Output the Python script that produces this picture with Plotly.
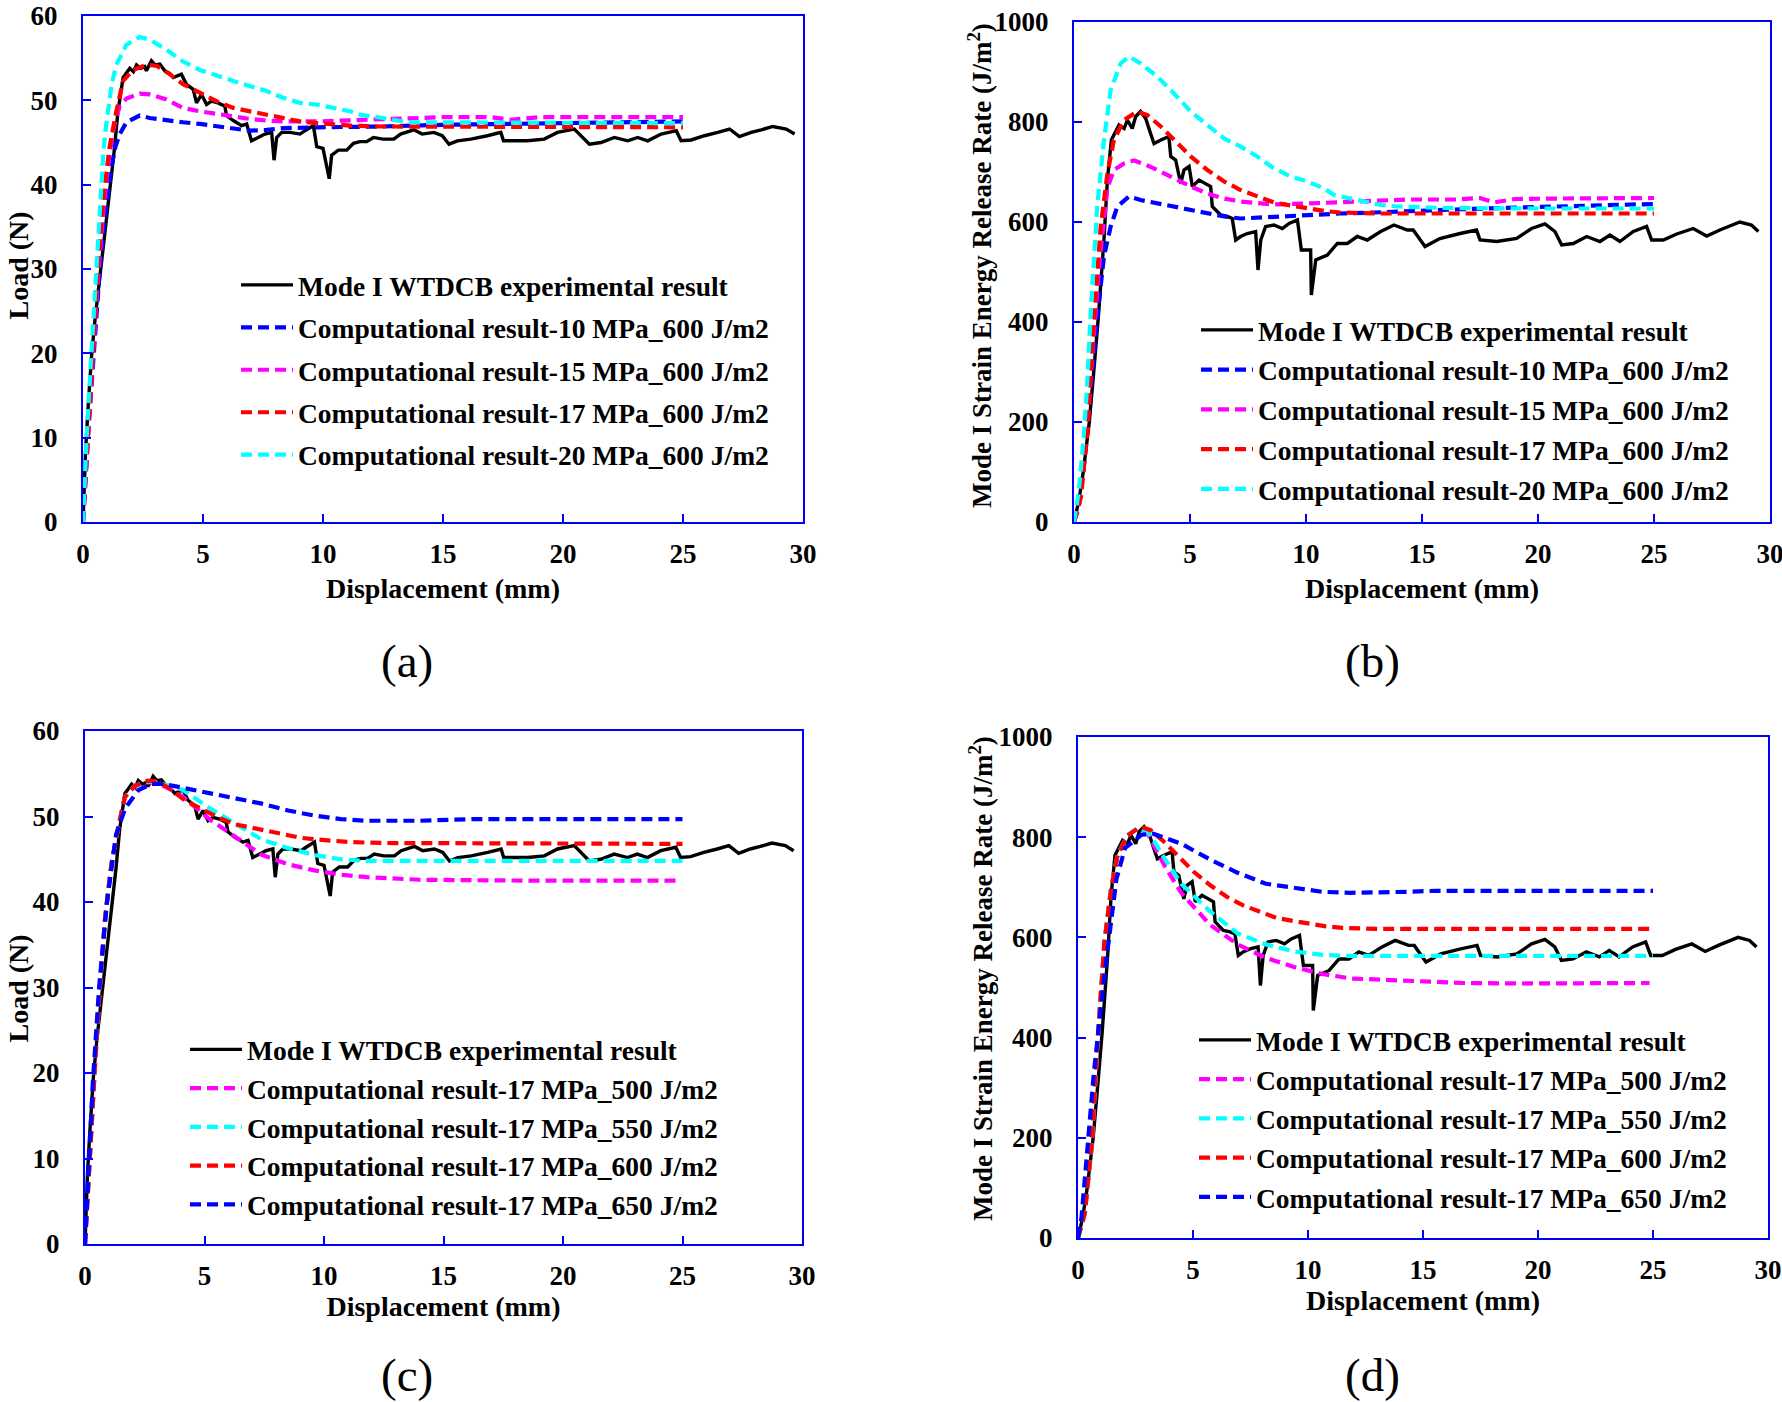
import plotly.graph_objects as go

# ---------------- DATA ----------------
# Experimental load-displacement (panels a, c)
exp_disp = [0, 0.05, 0.1, 0.2, 0.35, 0.5, 0.7, 0.85, 1.0, 1.15,
            1.3, 1.45, 1.55, 1.67, 1.8, 1.95, 2.1, 2.23, 2.4, 2.57,
            2.64, 2.85, 3.0, 3.2, 3.41, 3.6, 3.76, 3.95, 4.1, 4.31,
            4.59, 4.73, 4.94, 5.15, 5.35, 5.63, 5.91, 5.98, 6.26, 6.61,
            6.82, 7.02, 7.3, 7.58, 7.86, 7.96, 8.07, 8.28, 8.62, 9.04,
            9.25, 9.6, 9.74, 10.0, 10.26, 10.36, 10.64, 10.99, 11.27, 11.54,
            11.82, 12.1, 12.5, 12.95, 13.23, 13.79, 14.13, 14.62, 14.97, 15.25,
            15.6, 16.16, 16.85, 17.41, 17.52, 17.97, 18.52, 19.22, 19.77, 20.47,
            20.82, 21.1, 21.58, 22.14, 22.7, 23.11, 23.53, 24.09, 24.72, 24.92,
            25.34, 25.89, 26.45, 26.94, 27.35, 27.84, 28.26, 28.74, 29.3, 29.65]
exp_load = [0, 4, 8, 13, 19.5, 24, 29, 33, 36.5, 40,
            44, 48.5, 50.5, 52.7, 53.2, 53.8, 53.4, 54.2, 53.8, 54.0,
            53.5, 54.7, 54.2, 54.3, 53.5, 53.2, 52.7, 52.9, 53.1, 51.9,
            51.3, 49.7, 50.7, 49.5, 49.9, 49.7, 49.3, 48.2, 47.6, 47.0,
            47.2, 45.2, 45.6, 46.0, 46.2, 42.9, 45.6, 46.2, 46.2, 46.0,
            46.4, 47.0, 44.5, 44.3, 40.7, 43.5, 44.1, 44.1, 44.9, 45.1,
            45.1, 45.6, 45.4, 45.4, 46.0, 46.5, 46.0, 46.2, 45.8, 44.8,
            45.2, 45.4, 45.8, 46.2, 45.2, 45.2, 45.2, 45.4, 46.2, 46.6,
            45.6, 44.8, 45.0, 45.6, 45.2, 45.6, 45.2, 46.0, 46.4, 45.2,
            45.3, 45.8, 46.2, 46.6, 45.7, 46.2, 46.5, 46.9, 46.6, 46.0]

# Experimental strain energy release rate (panels b, d)
expg_disp = [0, 0.2, 0.4, 0.66, 0.85, 1.05, 1.29, 1.44, 1.61, 1.94,
             2.16, 2.3, 2.51, 2.66, 2.87, 3.09, 3.3, 3.45, 3.74, 4.09,
             4.17, 4.38, 4.6, 4.74, 4.96, 5.1, 5.39, 5.68, 5.89, 5.96,
             6.32, 6.61, 6.82, 6.97, 7.18, 7.47, 7.83, 7.93, 8.05, 8.26,
             8.62, 8.98, 9.27, 9.63, 9.8, 10.2, 10.23, 10.42, 10.92, 11.35,
             11.78, 12.21, 12.64, 13.22, 13.79, 14.37, 14.62, 15.13, 15.77, 16.64,
             17.35, 17.5, 18.22, 19.08, 19.72, 20.3, 20.73, 21.02, 21.52, 22.1,
             22.67, 23.1, 23.53, 24.11, 24.68, 24.9, 25.4, 25.98, 26.69, 27.27,
             27.84, 28.7, 29.2, 29.5]
expg_g = [0, 40, 100, 200, 300, 410, 564, 684, 764, 794,
          787, 804, 787, 811, 821, 807, 777, 757, 764, 771,
          731, 724, 677, 704, 711, 671, 684, 677, 671, 631,
          614, 611, 607, 564, 571, 577, 581, 504, 564, 591,
          594, 587, 597, 604, 544, 544, 454, 524, 534, 557,
          557, 571, 564, 581, 594, 584, 584, 551, 567, 577,
          584, 564, 561, 567, 587, 596, 581, 554, 557, 571,
          561, 574, 561, 581, 591, 564, 564, 576, 587, 572,
          584, 600, 594, 581]

# Panel (a): load, 600 J/m2, varying strength
a10_x = [0, 0.2, 0.45, 0.7, 0.95, 1.18, 1.35, 1.53, 1.81, 2.36,
         2.78, 3.48, 4.17, 4.87, 5.56, 6.26, 6.95, 7.65, 8.34, 9.74,
         11.13, 12.5, 15, 18, 21, 25]
a10_y = [0, 10, 20, 30, 37, 42, 44.5, 46.0, 47.4, 48.2,
         47.9, 47.6, 47.4, 47.2, 46.9, 46.7, 46.4, 46.5, 46.7, 46.8,
         46.8, 46.9, 47.1, 47.2, 47.4, 47.5]
a15_x = [0, 0.19, 0.42, 0.65, 0.88, 1.1, 1.3, 1.53, 1.81, 2.36,
         2.78, 3.48, 4.17, 4.87, 5.56, 6.26, 6.95, 7.65, 8.34, 9.74,
         11.13, 12.5, 15, 17.0, 17.8, 19, 25]
a15_y = [0, 10, 20, 30, 38, 43.5, 47, 49.3, 50.2, 50.8,
         50.7, 50.1, 49.1, 48.7, 48.4, 48.0, 47.8, 47.6, 47.5, 47.5,
         47.6, 47.8, 48.0, 48.0, 47.7, 48.0, 48.0]
a17_x = [0, 0.18, 0.4, 0.62, 0.83, 1.0, 1.11, 1.39, 1.67, 2.09,
         2.64, 3.06, 3.62, 4.17, 4.87, 5.56, 6.26, 6.95, 7.65, 8.34,
         9.04, 9.74, 10.43, 11.13, 12.5, 25]
a17_y = [0, 10, 20, 30, 37.8, 42.0, 44.5, 48.7, 52.3, 53.6,
         54.2, 54.1, 53.1, 51.9, 50.9, 49.9, 49.1, 48.7, 48.2, 47.8,
         47.5, 47.3, 47.1, 47.0, 46.9, 46.8]
a20_x = [0, 0.15, 0.35, 0.55, 0.7, 0.85, 0.97, 1.2, 1.39, 1.81,
         2.36, 2.78, 3.48, 4.17, 4.87, 5.56, 6.26, 6.95, 7.65, 8.34,
         9.04, 9.74, 10.43, 11.13, 11.54, 12.1, 12.5, 13.5, 25]
a20_y = [0, 10, 20, 30, 38, 44, 47.2, 52.0, 54.2, 56.6,
         57.5, 57.2, 56.0, 54.6, 53.6, 52.9, 52.3, 51.7, 51.1, 50.3,
         49.7, 49.5, 49.1, 48.7, 48.3, 48.0, 47.9, 47.4, 47.3]

# Panel (b): G, 600 J/m2, varying strength
b10_x = [0, 0.2, 0.42, 0.65, 0.85, 1.05, 1.29, 1.58, 1.87, 2.37,
         2.87, 3.59, 4.31, 5.03, 5.75, 6.47, 7.18, 7.9, 8.62, 10.06,
         11.49, 12.93, 14.37, 17, 20, 25]
b10_y = [0, 30, 110, 230, 340, 430, 531, 591, 631, 651,
         644, 637, 631, 624, 617, 611, 607, 609, 611, 614,
         617, 619, 622, 626, 630, 636]
b15_x = [0, 0.2, 0.42, 0.65, 0.88, 1.1, 1.3, 1.44, 1.72, 2.16,
         2.59, 3.02, 3.59, 4.31, 5.03, 5.75, 6.47, 7.18, 7.9, 8.62,
         10.06, 11.49, 12.93, 14.37, 16.5, 17.5, 18.1, 19.0, 21, 25]
b15_y = [0, 30, 110, 240, 390, 520, 610, 668, 704, 717,
         723, 716, 704, 687, 671, 657, 647, 641, 637, 635,
         637, 639, 643, 645, 645, 648, 639, 646, 647, 648]
b17_x = [0, 0.3, 0.6, 0.86, 1.15, 1.44, 1.72, 2.16, 2.73, 3.16,
         3.74, 4.31, 5.03, 5.75, 6.47, 7.18, 7.9, 8.62, 9.34, 10.06,
         10.78, 11.49, 13, 25]
b17_y = [0, 50, 190, 400, 591, 697, 764, 804, 821, 814,
         791, 764, 731, 704, 681, 664, 651, 639, 633, 627,
         622, 619, 617, 617]
b20_x = [0, 0.2, 0.4, 0.55, 0.72, 0.85, 1.0, 1.29, 1.58, 2.01,
         2.37, 2.87, 3.59, 4.31, 5.03, 5.75, 6.47, 7.18, 7.9, 8.62,
         9.34, 10.06, 10.78, 11.21, 11.93, 12.5, 13.22, 13.94, 16, 20, 25]
b20_y = [0, 60, 160, 260, 420, 530, 631, 764, 864, 917,
         931, 917, 891, 857, 821, 794, 767, 751, 731, 707,
         691, 681, 667, 654, 647, 641, 634, 631, 628, 627, 627]

# Panel (c): load, 17 MPa, varying toughness (600 J/m2 = a17)
c500_x = [0, 0.18, 0.4, 0.62, 0.83, 1.0, 1.11, 1.39, 1.67, 2.09,
          2.64, 3.0, 3.5, 4.1, 5.2, 6.3, 7.4, 8.5, 9.6, 10.7,
          11.8, 14.0, 18.4, 24.8]
c500_y = [0, 10, 20, 30, 37.8, 42.0, 44.5, 48.7, 52.3, 53.6,
          54.0, 53.9, 53.3, 52.3, 49.7, 47.6, 45.5, 44.4, 43.7, 43.2,
          42.9, 42.6, 42.5, 42.5]
c550_x = [0, 0.18, 0.4, 0.62, 0.83, 1.0, 1.11, 1.39, 1.67, 2.09,
          2.64, 3.0, 3.5, 4.1, 5.2, 6.3, 7.4, 8.5, 9.6, 10.7,
          11.8, 16.2, 25.0]
c550_y = [0, 10, 20, 30, 37.8, 42.0, 44.5, 48.7, 52.3, 53.6,
          54.1, 54.0, 53.6, 53.1, 51.0, 49.2, 47.3, 46.3, 45.5, 45.0,
          44.8, 44.8, 44.8]
c650_x = [0, 0.11, 0.33, 0.59, 0.92, 1.3, 1.69, 2.24, 2.8, 3.3,
          4.0, 5.2, 6.3, 7.4, 8.5, 9.6, 10.7, 11.8, 14.0, 16.2, 25.0]
c650_y = [0, 5.9, 19, 30, 40, 47.9, 51.0, 53.1, 53.8, 53.8,
          53.4, 52.8, 52.1, 51.5, 50.7, 50.1, 49.7, 49.5, 49.5, 49.7, 49.7]

# Panel (d): G, 17 MPa, varying toughness (600 J/m2 = b17)
d500_x = [0, 0.3, 0.6, 0.86, 1.15, 1.44, 1.72, 2.16, 2.6, 3.0,
          3.26, 3.8, 4.49, 5.72, 6.94, 8.17, 9.39, 10.62, 11.85, 14.3,
          16.75, 19.2, 24.85]
d500_y = [0, 50, 190, 400, 591, 697, 764, 804, 818, 810,
          787, 740, 689, 626, 586, 559, 541, 527, 518, 514,
          509, 508, 509]
d550_x = [0, 0.3, 0.6, 0.86, 1.15, 1.44, 1.72, 2.16, 2.6, 3.0,
          3.26, 3.8, 4.49, 5.72, 6.94, 8.17, 9.39, 10.62, 11.85, 16, 25]
d550_y = [0, 50, 190, 400, 591, 697, 764, 804, 819, 812,
          796, 755, 707, 653, 608, 586, 572, 565, 563, 563, 563]
d650_x = [0, 0.15, 0.3, 0.69, 1.18, 1.67, 2.04, 2.77, 3.26,
          4.49, 5.72, 6.94, 8.17, 9.39, 10.62, 11.85, 13.07, 14.3, 15.53, 25]
d650_y = [0, 40, 120, 330, 536, 716, 778, 805, 807,
          787, 756, 729, 707, 698, 691, 689, 689, 691, 693, 693]

exp_name = "Mode I WTDCB experimental result"
names_a = ["Computational result-10 MPa_600 J/m2", "Computational result-15 MPa_600 J/m2",
           "Computational result-17 MPa_600 J/m2", "Computational result-20 MPa_600 J/m2"]
names_c = ["Computational result-17 MPa_500 J/m2", "Computational result-17 MPa_550 J/m2",
           "Computational result-17 MPa_600 J/m2", "Computational result-17 MPa_650 J/m2"]
captions = ["(a)", "(b)", "(c)", "(d)"]
load_title = "Load (N)"
g_title = "Mode I Strain Energy Release Rate (J/m<sup>2</sup>)"
x_title = "Displacement (mm)"

# ---------------- STYLE ----------------
W, H = 1782, 1402
FONT = "Times New Roman, Liberation Serif, serif"
AXC = "#0000ff"
BLUE, MAG, RED, CYAN = "#0000ff", "#ff00ff", "#ff0000", "#00ffff"
DASH = "11px,6px"

fig = go.Figure()

def add(x, y, name, color, xa, ya, leg, grp, dash=None, width=4.2):
    fig.add_trace(go.Scatter(
        x=x, y=y, mode="lines", name=name,
        line=dict(color=color, width=width, dash=dash if dash else "solid"),
        xaxis=xa, yaxis=ya, legend=leg, legendgroup=grp))

# (a)
add(exp_disp, exp_load, exp_name, "black", "x", "y", "legend", "a0", width=3.4)
add(a10_x, a10_y, names_a[0], BLUE, "x", "y", "legend", "a1", DASH)
add(a15_x, a15_y, names_a[1], MAG, "x", "y", "legend", "a2", DASH)
add(a17_x, a17_y, names_a[2], RED, "x", "y", "legend", "a3", DASH)
add(a20_x, a20_y, names_a[3], CYAN, "x", "y", "legend", "a4", DASH)
# (b)
add(expg_disp, expg_g, exp_name, "black", "x2", "y2", "legend2", "b0", width=3.4)
add(b10_x, b10_y, names_a[0], BLUE, "x2", "y2", "legend2", "b1", DASH)
add(b15_x, b15_y, names_a[1], MAG, "x2", "y2", "legend2", "b2", DASH)
add(b17_x, b17_y, names_a[2], RED, "x2", "y2", "legend2", "b3", DASH)
add(b20_x, b20_y, names_a[3], CYAN, "x2", "y2", "legend2", "b4", DASH)
# (c)
add(exp_disp, exp_load, exp_name, "black", "x3", "y3", "legend3", "c0", width=3.4)
add(c500_x, c500_y, names_c[0], MAG, "x3", "y3", "legend3", "c1", DASH)
add(c550_x, c550_y, names_c[1], CYAN, "x3", "y3", "legend3", "c2", DASH)
add(a17_x, a17_y, names_c[2], RED, "x3", "y3", "legend3", "c3", DASH)
add(c650_x, c650_y, names_c[3], BLUE, "x3", "y3", "legend3", "c4", DASH)
# (d)
add(expg_disp, expg_g, exp_name, "black", "x4", "y4", "legend4", "d0", width=3.4)
add(d500_x, d500_y, names_c[0], MAG, "x4", "y4", "legend4", "d1", DASH)
add(d550_x, d550_y, names_c[1], CYAN, "x4", "y4", "legend4", "d2", DASH)
add(b17_x, b17_y, names_c[2], RED, "x4", "y4", "legend4", "d3", DASH)
add(d650_x, d650_y, names_c[3], BLUE, "x4", "y4", "legend4", "d4", DASH)

def px_x(a, b):
    return [a / W, b / W]

def px_y(top, bot):
    return [1 - bot / H, 1 - top / H]

tickfont = dict(family=FONT, size=27, color="black", weight="bold")
titlefont = dict(family=FONT, size=28, color="black", weight="bold")
gtitlefont = dict(family=FONT, size=27, color="black", weight="bold")

def xax(dom, anchor, so):
    return dict(domain=dom, anchor=anchor, range=[0, 30], dtick=5, tick0=0,
                showline=True, linecolor=AXC, linewidth=2, mirror=True,
                ticks="inside", ticklen=8, tickwidth=2, tickcolor=AXC,
                showgrid=False, zeroline=False, tickfont=tickfont,
                ticklabelstandoff=7, automargin=False, ticklabeloverflow="allow",
                title=dict(text=x_title, font=titlefont, standoff=so))

def yax(dom, anchor, rng, dt):
    return dict(domain=dom, anchor=anchor, range=rng, dtick=dt, tick0=0,
                showline=True, linecolor=AXC, linewidth=2, mirror=True,
                ticks="inside", ticklen=8, tickwidth=2, tickcolor=AXC,
                showgrid=False, zeroline=False, tickfont=tickfont,
                ticklabelstandoff=18, automargin=False, ticklabeloverflow="allow")

def legend(x, y, gap):
    return dict(x=x, y=y, xanchor="left", yanchor="top", xref="paper", yref="paper",
                bgcolor="rgba(0,0,0,0)", borderwidth=0, tracegroupgap=gap,
                itemwidth=52,
                font=dict(family=FONT, size=27.5, color="black", weight="bold"))

fig.update_layout(
    width=W, height=H, margin=dict(l=0, r=0, t=0, b=0, autoexpand=False),
    paper_bgcolor="white", plot_bgcolor="white",
    xaxis=xax(px_x(83, 803), "y", 10),
    yaxis=yax(px_y(16, 522), "x", [0, 60], 10),
    xaxis2=xax(px_x(1074, 1770), "y2", 10),
    yaxis2=yax(px_y(22, 522), "x2", [0, 1000], 200),
    xaxis3=xax(px_x(85, 802), "y3", 3.5),
    yaxis3=yax(px_y(731, 1244), "x3", [0, 60], 10),
    xaxis4=xax(px_x(1078, 1768), "y4", 5.5),
    yaxis4=yax(px_y(737, 1238), "x4", [0, 1000], 200),
    legend=legend(236 / W, 1 - 260.5 / H, 3.7),
    legend2=legend(1196 / W, 1 - 305.5 / H, 1),
    legend3=legend(185 / W, 1 - 1025 / H, 0),
    legend4=legend(1194 / W, 1 - 1015.5 / H, 0.5),
    showlegend=True,
)

# y-axis titles (rotated), placed at their positions in the figure
ytitles = [(load_title, 17.5, 266, titlefont), (g_title, 980, 266, gtitlefont),
           (load_title, 17.5, 989, titlefont), (g_title, 981, 979, gtitlefont)]
for txt, cx, cy, fnt in ytitles:
    fig.add_annotation(text=txt, x=cx / W, y=1 - cy / H, xref="paper", yref="paper",
                       showarrow=False, xanchor="center", yanchor="middle",
                       textangle=-90, font=fnt)

cap_pos = [(407, 661), (1372, 661), (407, 1375), (1372, 1375)]
for txt, (cx, cy) in zip(captions, cap_pos):
    fig.add_annotation(text=txt, x=cx / W, y=1 - cy / H, xref="paper", yref="paper",
                       showarrow=False, xanchor="center", yanchor="middle",
                       font=dict(family=FONT, size=47, color="black"))

fig.write_html("out.html", config={"displayModeBar": False},
               post_script="document.body.style.margin='0px';"
                           "document.body.style.overflow='hidden';")
